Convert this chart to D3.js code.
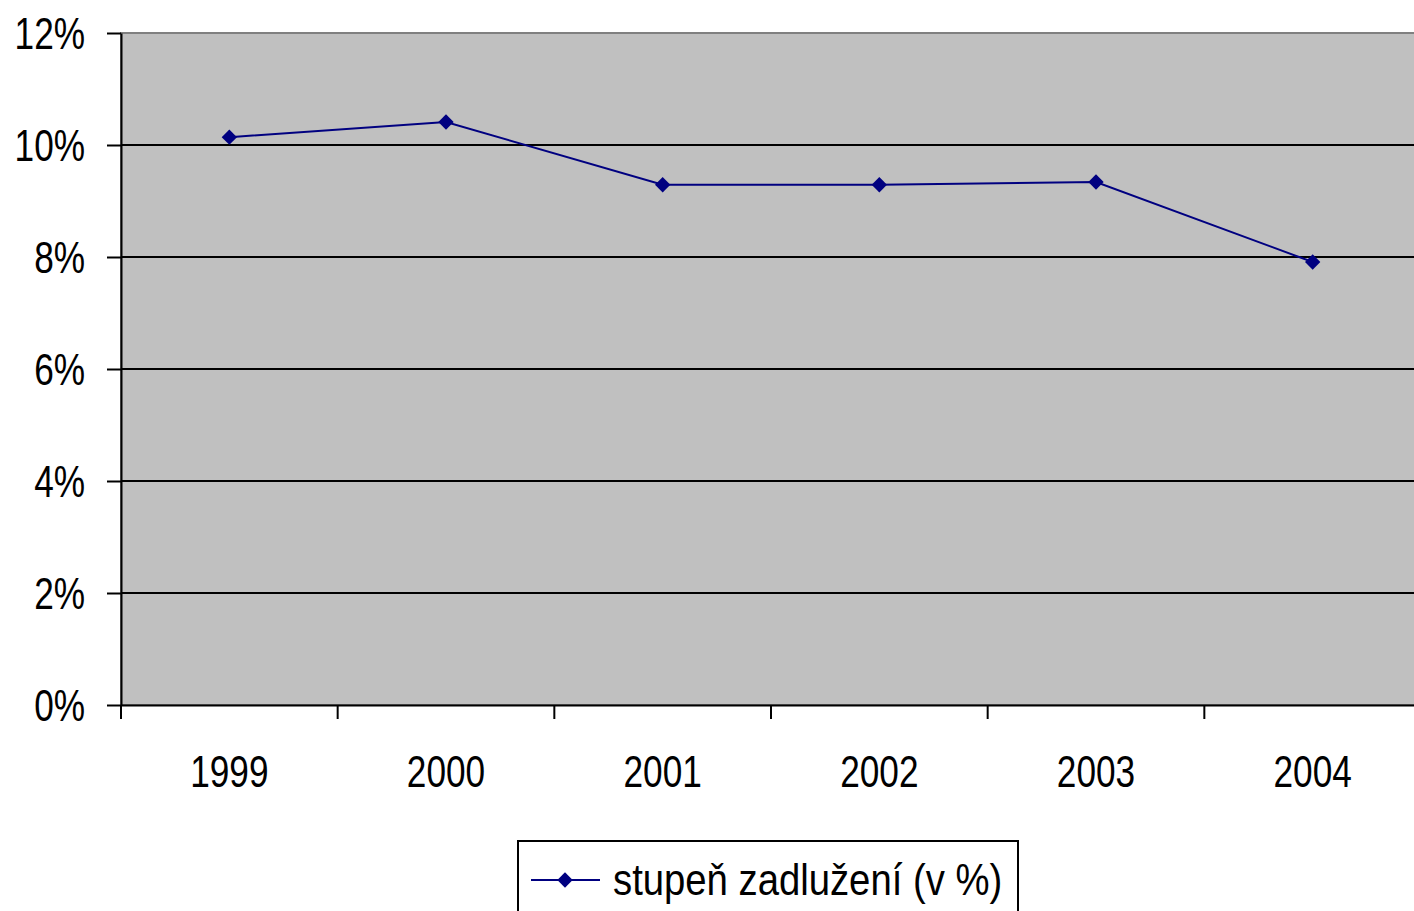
<!DOCTYPE html>
<html>
<head>
<meta charset="utf-8">
<script src="https://cdn.jsdelivr.net/npm/d3@7"></script>
<style>
body { margin: 0; background: #fff; }
text { font-family: "Liberation Sans", Arial, sans-serif; fill: #000; }
</style>
</head>
<body>
<script>
var years = ["1999", "2000", "2001", "2002", "2003", "2004"];
var values = [10.14, 10.41, 9.29, 9.29, 9.34, 7.91];
var yTicks = [0, 2, 4, 6, 8, 10, 12];
var seriesName = "stupeň zadlužení (v %)";

var width = 1414, height = 911;
var pLeft = 121, pRight = 1421, pTop = 33, pBottom = 705;

var svg = d3.select("body").append("svg").attr("width", width).attr("height", height);

var x = d3.scaleBand().domain(years).range([pLeft, pRight]);
var y = d3.scaleLinear().domain([0, 12]).range([pBottom, pTop]);

// plot area
svg.append("rect").attr("x", pLeft).attr("y", pTop)
	.attr("width", pRight - pLeft).attr("height", pBottom - pTop)
	.attr("fill", "#c0c0c0").attr("stroke", "#808080").attr("stroke-width", 2);

// gridlines
svg.selectAll(".grid").data(yTicks.filter(function(d){ return d > 0 && d < 12; })).enter()
	.append("line").attr("class", "grid")
	.attr("x1", pLeft).attr("x2", pRight)
	.attr("y1", function(d){ return y(d); }).attr("y2", function(d){ return y(d); })
	.attr("stroke", "#000").attr("stroke-width", 2);

// y axis
var yAxis = d3.axisLeft(y).tickValues(yTicks).tickSize(14).tickSizeOuter(0).tickFormat(function(d){ return d + "%"; });
var gy = svg.append("g").attr("transform", "translate(" + pLeft + ",0)").call(yAxis);
gy.select(".domain").attr("stroke", "#000").attr("stroke-width", 2);
gy.selectAll(".tick line").attr("stroke", "#000").attr("stroke-width", 2);
gy.selectAll(".tick text").attr("x", 0).attr("dy", null)
	.attr("transform", "translate(-36,15) scale(0.8,1)")
	.style("font-size", "44px").attr("text-anchor", "end");

// x axis
var xAxis = d3.axisBottom(x).tickSize(0).tickSizeOuter(0);
var gx = svg.append("g").attr("transform", "translate(0," + pBottom + ")").call(xAxis);
gx.select(".domain").attr("stroke", "#000").attr("stroke-width", 2);
gx.selectAll(".tick text").attr("y", 0).attr("dy", null)
	.attr("transform", "translate(0,82) scale(0.8,1)")
	.style("font-size", "44px");
var xt = years.map(function(d){ return x(d); }).concat([pRight]);
svg.selectAll(".xtick").data(xt).enter().append("line").attr("class", "xtick")
	.attr("x1", function(d){ return d; }).attr("x2", function(d){ return d; })
	.attr("y1", pBottom).attr("y2", pBottom + 14)
	.attr("stroke", "#000").attr("stroke-width", 2);

// series
var cx = function(d, i){ return x(years[i]) + x.bandwidth() / 2; };
var line = d3.line().x(cx).y(function(d){ return y(d); });
svg.append("path").datum(values).attr("d", line)
	.attr("fill", "none").attr("stroke", "#000080").attr("stroke-width", 2);
var diamond = d3.symbol().type(d3.symbolDiamond2).size(150);
svg.selectAll(".pt").data(values).enter().append("path").attr("class", "pt")
	.attr("d", diamond)
	.attr("transform", function(d, i){ return "translate(" + cx(d, i) + "," + y(d) + ")"; })
	.attr("fill", "#000080");

// legend
var lg = svg.append("g");
lg.append("rect").attr("x", 518).attr("y", 841).attr("width", 500).attr("height", 90)
	.attr("fill", "#fff").attr("stroke", "#000").attr("stroke-width", 2);
lg.append("line").attr("x1", 531).attr("x2", 600).attr("y1", 880).attr("y2", 880)
	.attr("stroke", "#000080").attr("stroke-width", 2);
lg.append("path").attr("d", diamond).attr("transform", "translate(565,880)").attr("fill", "#000080");
lg.append("text").attr("transform", "translate(613,895) scale(0.87,1)")
	.style("font-size", "44px").text(seriesName);
</script>
</body>
</html>
